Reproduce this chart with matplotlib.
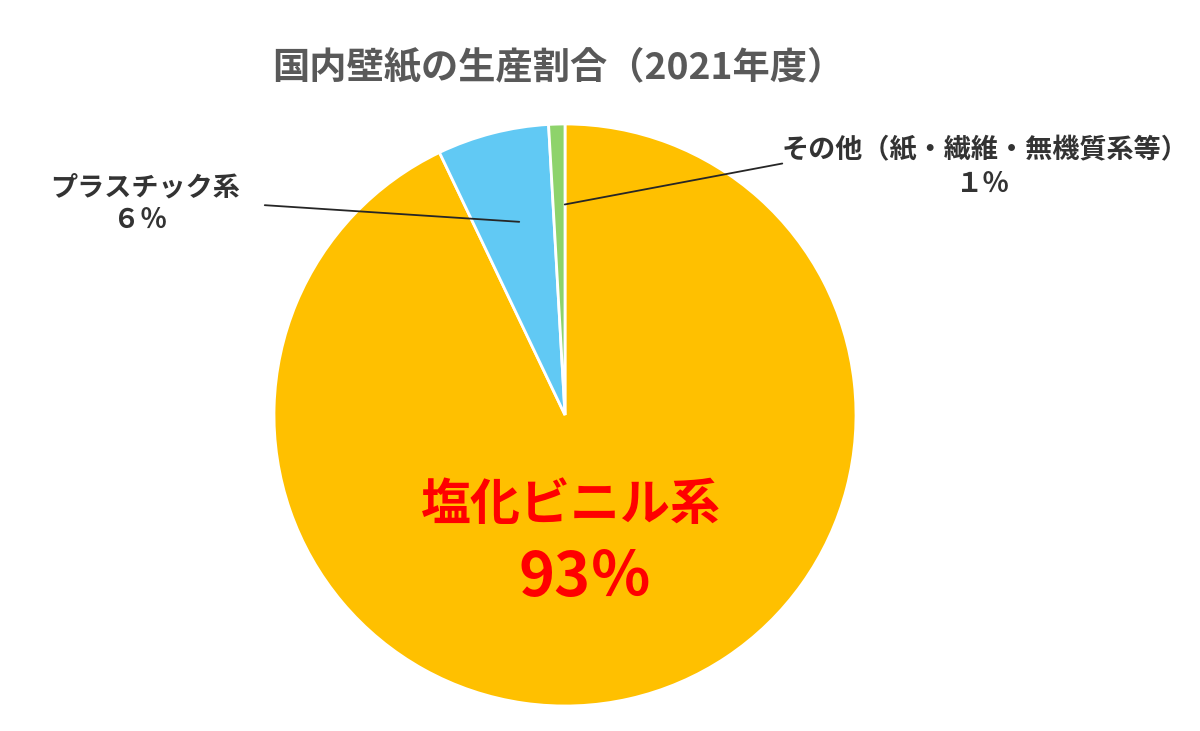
import matplotlib
matplotlib.use("Agg")
import matplotlib.pyplot as plt

plt.rcParams['font.family'] = ['Noto Sans CJK JP', 'DejaVu Sans']

# data (clockwise from 12 o'clock)
categories = ['塩化ビニル系', 'プラスチック系', 'その他（紙・繊維・無機質系等）']
shares = [92.9, 6.2, 0.9]
share_labels = ['93％', '６％', '１％']
colors = ['#FFC000', '#61C9F4', '#8ED36B']

fig = plt.figure(figsize=(12, 7.31), dpi=100)
fig.patch.set_facecolor('white')

# pie axes: centre ~(565, 415) px, radius ~291 px
cx, cy, r = 565, 415, 291
W, H = 1200, 731
ax = fig.add_axes([(cx - r) / W, (H - cy - r) / H, 2 * r / W, 2 * r / H])
ax.pie(shares, colors=colors, startangle=90, counterclock=False,
       wedgeprops=dict(edgecolor='white', linewidth=2), radius=1)
ax.set_xlim(-1, 1)
ax.set_ylim(-1, 1)
ax.set_aspect('equal')
ax.axis('off')

fig.text(558 / W, 1 - 68 / H, '国内壁紙の生産割合（2021年度）', ha='center', va='center',
         fontsize=26.8, fontweight='bold', color='#595959')

# big label inside the main slice
ax.text(0.02, -0.31, categories[0], ha='center', va='center',
        fontsize=36, fontweight='bold', color='#FF0000')
ax.text(0.07, -0.56, share_labels[0], ha='center', va='center',
        fontsize=44, fontweight='bold', color='#FF0000')


def px(x, y):
    return ((x - cx) / r, (cy - y) / r)


# プラスチック系
ax.annotate('', xy=px(522, 222), xytext=px(262, 205),
            arrowprops=dict(arrowstyle='-', color='#262626', lw=1.3),
            annotation_clip=False)
ax.text(*px(145, 187), categories[1], ha='center', va='center',
        fontsize=19.5, fontweight='bold', color='#333333', clip_on=False)
ax.text(*px(140, 220), share_labels[1], ha='center', va='center',
        fontsize=19.5, fontweight='bold', color='#333333', clip_on=False)

# その他
ax.annotate('', xy=px(562, 205), xytext=px(785, 163),
            arrowprops=dict(arrowstyle='-', color='#262626', lw=1.3),
            annotation_clip=False)
ax.text(*px(985, 150), categories[2], ha='center', va='center',
        fontsize=19.5, fontweight='bold', color='#333333', clip_on=False)
ax.text(*px(983, 184), share_labels[2], ha='center', va='center',
        fontsize=19.5, fontweight='bold', color='#333333', clip_on=False)

fig.savefig('out.png', dpi=100, facecolor='white')
